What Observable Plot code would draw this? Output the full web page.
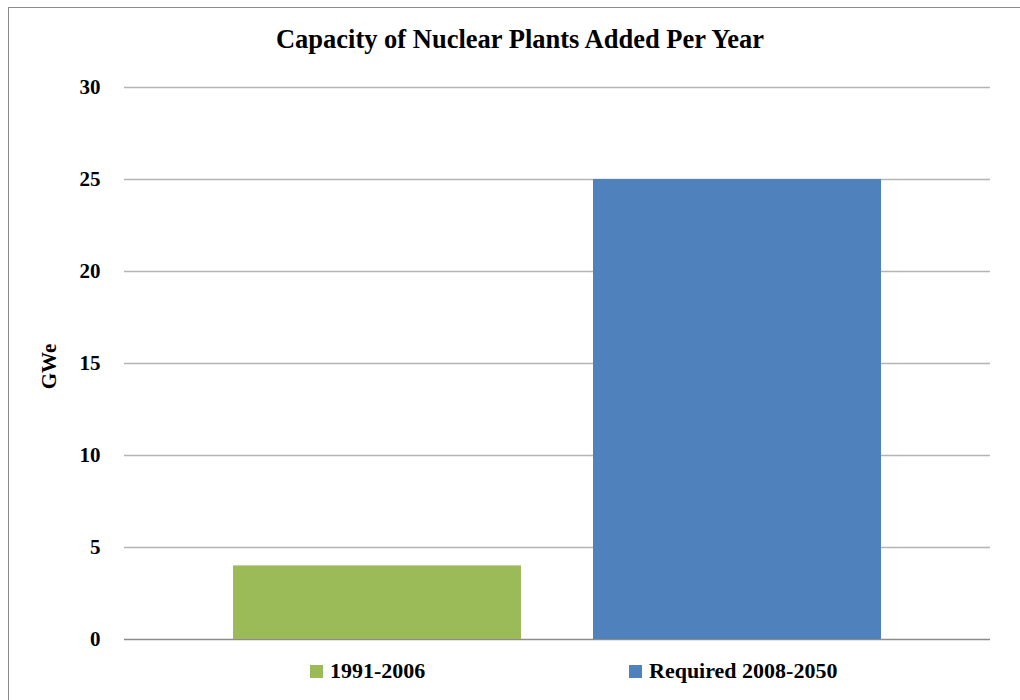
<!DOCTYPE html>
<html>
<head>
<meta charset="utf-8">
<script src="https://cdn.jsdelivr.net/npm/d3@7"></script>
<script src="https://cdn.jsdelivr.net/npm/@observablehq/plot@0.6"></script>
<style>
  html, body { margin: 0; padding: 0; background: #fff; }
  body { width: 1020px; height: 700px; position: relative; overflow: hidden;
         font-family: "Liberation Serif", "DejaVu Serif", serif; font-weight: bold; color: #000; }
  #frame { position: absolute; left: 8px; top: 7px; width: 1012px; height: 700px;
           border-top: 1.5px solid #8c8c8c; border-left: 1.5px solid #8c8c8c; box-sizing: border-box; }
  #title { position: absolute; top: 24px; left: 0; width: 1040px; text-align: center;
           font-size: 26.5px; font-weight: bold; }
  #chart { position: absolute; left: 0; top: 60px; }
  #legend { position: absolute; top: 658px; left: 0; width: 1020px; height: 30px; font-size: 22px; }
  .item { position: absolute; top: 0; display: flex; align-items: center; white-space: nowrap; }
  .sw { width: 13px; height: 13px; margin-right: 7px; display: inline-block; }
</style>
</head>
<body>
<div id="frame"></div>
<div id="title">Capacity of Nuclear Plants Added Per Year</div>
<div id="chart"></div>
<div id="legend"></div>
<script>
const categories = ["1991-2006", "Required 2008-2050"];
const values = [4, 25];
const colors = ["#9bbb59", "#4f81bd"];
const yTicks = [0, 5, 10, 15, 20, 25, 30];
const yLabel = "GWe";

const data = categories.map((c, i) => ({category: c, value: values[i]}));

const plot = Plot.plot({
  width: 1020,
  height: 600,
  marginLeft: 124,
  marginRight: 30,
  marginTop: 27,
  marginBottom: 21,
  style: {fontFamily: "'Liberation Serif', 'DejaVu Serif', serif", fontWeight: "bold", fontSize: "21px", background: "transparent"},
  x: {domain: categories, paddingInner: 0.2, paddingOuter: 0.3, axis: null},
  y: {domain: [0, 30], ticks: yTicks},
  color: {domain: categories, range: colors},
  marks: [
    Plot.ruleY(yTicks.filter(d => d > 0), {stroke: "#b4b4b4", strokeWidth: 1.5}),
    Plot.ruleY([0], {stroke: "#8c8c8c", strokeWidth: 1.5}),
    Plot.barY(data, {x: "category", y: "value", fill: "category"}),
    Plot.axisY({ticks: yTicks, tickSize: 0, tickPadding: 24, tickFormat: d => String(d),
                fontSize: 21, fontWeight: "bold", label: null}),
    Plot.text([yLabel], {frameAnchor: "left", textAnchor: "middle", dx: -75, dy: 3, rotate: -90, text: d => d,
                fontSize: 21, fontWeight: "bold"})
  ]
});
document.getElementById("chart").appendChild(plot);

// legend
const legend = document.getElementById("legend");
const lx = [310, 629];
categories.forEach((c, i) => {
  const it = document.createElement("div");
  it.className = "item";
  it.style.left = lx[i] + "px";
  const sw = document.createElement("span");
  sw.className = "sw";
  sw.style.background = colors[i];
  const t = document.createElement("span");
  t.textContent = c;
  it.appendChild(sw); it.appendChild(t);
  legend.appendChild(it);
});
</script>
</body>
</html>
